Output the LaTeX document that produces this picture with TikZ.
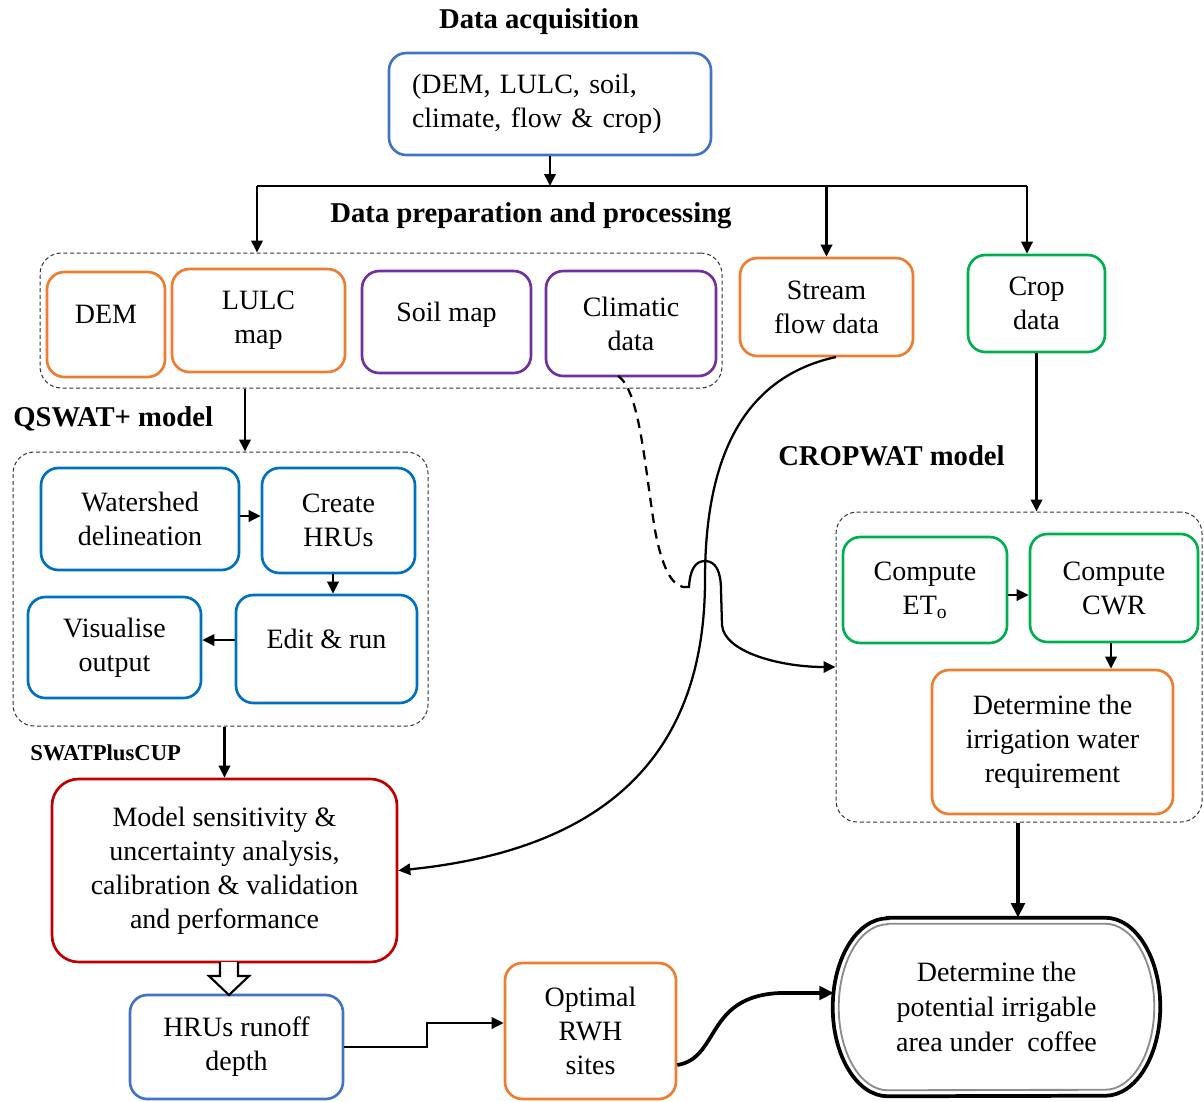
\documentclass[tikz,border=0pt]{standalone}
\usepackage{fontspec}
\setmainfont{Liberation Serif}
\usetikzlibrary{arrows.meta,calc}
\definecolor{blueA}{RGB}{68,114,196}
\definecolor{blueB}{RGB}{0,112,192}
\definecolor{orangeC}{RGB}{237,125,49}
\definecolor{purpleC}{RGB}{112,48,160}
\definecolor{greenC}{RGB}{0,176,80}
\definecolor{redC}{RGB}{192,0,0}
\begin{document}
\begin{tikzpicture}[x=0.75pt,y=-0.75pt,
  sz/.style 2 args={minimum width=#1*0.75pt, minimum height=#2*0.75pt},
  box/.style={draw, line width=2pt, rounded corners=13pt, align=center, inner sep=2pt, font=\fontsize{21}{25.5}\selectfont, fill=white},
  grp/.style={draw=black!80, dash pattern=on 3pt off 2pt, line width=0.75pt, rounded corners=16pt, inner sep=0pt},
  hd/.style={font=\bfseries\fontsize{21.5}{25}\selectfont, inner sep=0pt},
  arr/.style={line width=1.9pt, -{Triangle[length=9pt,width=8.5pt]}},
  thk/.style={line width=2.8pt, -{Triangle[length=11pt,width=10pt]}},
  hollow/.style={draw=black, fill=white, line width=1.6pt, line join=miter},
]
\useasboundingbox (0,0) rectangle (1204,1101);

% headings
\node[hd] (tacq) at (539,22) {Data acquisition};
\node[hd] (tprep) at (531,216) {Data preparation and processing};
\node[hd, anchor=west] (tqs) at (13,419) {QSWAT+ model};
\node[hd, anchor=west] (tcw) at (778,456) {CROPWAT model};
\node[hd, anchor=west, font=\bfseries\fontsize{17}{20}\selectfont] (tcup) at (30,753) {SWATPlusCUP};

% groups
\node[grp, sz={682}{135}] (g1) at (381,320.5) {};
\node[grp, sz={415}{274}] (g2) at (220.5,589) {};
\node[grp, sz={366}{310}] (g3) at (1019,667) {};

% data acquisition
\node[box, draw=blueA, sz={322}{102}, align=left, text width=207pt, inner xsep=17pt] (acq) at (550,104) {(DEM, LULC, soil,\\climate, flow \& crop)};

% data preparation
\node[box, draw=orangeC, sz={118}{105}] (dem) at (106,324.5) {\raisebox{16pt}{DEM}};
\node[box, draw=orangeC, sz={173}{103}] (lulc) at (258.5,320.5) {LULC\\map};
\node[box, draw=purpleC, sz={169}{102}] (soil) at (446.5,322) {\raisebox{15pt}{Soil map}};
\node[box, draw=purpleC, sz={170}{105}] (clim) at (631,323.5) {Climatic\\data};
\node[box, draw=orangeC, sz={173}{98}] (stream) at (826.5,307) {Stream\\flow data};
\node[box, draw=greenC, sz={137}{97}] (crop) at (1036.5,303.5) {Crop\\data};

% QSWAT+
\node[box, draw=blueB, sz={198}{102}] (ws) at (140,519) {Watershed\\delineation};
\node[box, draw=blueB, sz={153}{105}] (hru) at (338.5,520.5) {Create\\HRUs};
\node[box, draw=blueB, sz={181}{108}] (edit) at (326.5,649) {\raisebox{15pt}{Edit \& run}};
\node[box, draw=blueB, sz={173}{101}] (vis) at (114.5,647.5) {Visualise\\output};

% SWATPlusCUP
\node[box, draw=redC, sz={345}{183}, rounded corners=20pt] (red) at (224.5,870.5) {Model sensitivity \&\\uncertainty analysis,\\calibration \& validation\\and performance};
\node[box, draw=blueA, sz={213}{104}] (hrud) at (236.5,1047) {HRUs runoff\\depth};
\node[box, draw=orangeC, sz={171}{136}] (opt) at (590.5,1031) {Optimal\\RWH\\sites};

% CROPWAT
\node[box, draw=greenC, sz={164}{106}] (et0) at (925,590) {Compute\\ET\textsubscript{o}};
\node[box, draw=greenC, sz={168}{108}] (cwr) at (1114,588) {Compute\\CWR};
\node[box, draw=orangeC, sz={241}{144}] (irr) at (1052.5,742) {Determine the\\irrigation water\\requirement};

% final
\node[align=center, font=\fontsize{21}{26}\selectfont, sz={327}{178}, inner sep=0pt] (fin) at (996.5,1007) {Determine the\\potential irrigable\\area under~ coffee};
\draw[line width=2.8pt] ($(fin.north west)+(55,0)$) -- ($(fin.north east)+(-55,0)$)
  arc[start angle=90, end angle=-90, x radius=41.25pt, y radius=66.75pt]
  -- ($(fin.south west)+(55,0)$)
  arc[start angle=270, end angle=90, x radius=41.25pt, y radius=66.75pt] -- cycle;
\draw[line width=1.4pt, black!45] ($(fin.north west)+(55,6)$) -- ($(fin.north east)+(-55,6)$)
  arc[start angle=90, end angle=-90, x radius=36.75pt, y radius=62.25pt]
  -- ($(fin.south west)+(55,-6)$)
  arc[start angle=270, end angle=90, x radius=36.75pt, y radius=62.25pt] -- cycle;

% top connectors
\coordinate (bl) at (257,186);
\coordinate (br) at (1027,186);
\draw[line width=1.9pt] (bl) -- (br);
\draw[arr] (acq.south) -- (acq.south |- bl);
\draw[arr] (bl) -- (bl |- g1.north);
\draw[arr] (stream.north |- bl) -- (stream.north);
\draw[arr] (br) -- (br |- crop.north);

% QSWAT connectors
\coordinate (q1) at (245,0);
\draw[arr] (g1.south -| q1) -- (g2.north -| q1);
\draw[arr] (ws.east |- 0,516) -- (hru.west |- 0,516);
\draw[arr] (hru.south -| 333,0) -- (edit.north -| 333,0);
\draw[arr] (edit.west |- 0,640) -- (vis.east |- 0,640);
\draw[arr] (g2.south -| red.north) -- (red.north);

% hollow arrow
\draw[hollow] (220,962) -- (220,976) -- (209,976) -- (229,995) -- (249,976) -- (238,976) -- (238,962);

% bottom connectors
\draw[arr] (hrud.east) -| (427,1023) -- (opt.west |- 0,1023);
\draw[thk] (opt.east |- 0,1065) .. controls (720,1058) and (705,996) .. (780,993) -- (834,993);

% CROPWAT connectors
\draw[arr] (crop.south) -- (crop.south |- g3.north);
\draw[arr] (et0.east |- 0,595) -- (cwr.west |- 0,595);
\draw[arr] (cwr.south -| 1111,0) -- (irr.north -| 1111,0);
\draw[thk] (g3.south -| 1018,0) -- (fin.north -| 1018,0);

% stream flow to calibration
\draw[arr, line width=1.7pt] (836,357) .. controls (730,380) and (705,480) .. (705,580) .. controls (705,760) and (600,850) .. (red.east);

% climatic data to CROPWAT with hop
\draw[line width=1.7pt, dash pattern=on 7pt off 5pt] (618,376) .. controls (640,390) and (645,470) .. (655,530) .. controls (662,568) and (672,585) .. (683,587);
\draw[arr, line width=1.7pt] (683,587) -- (689,587) .. controls (690,570) and (695,561) .. (705,561) .. controls (716,561) and (721,572) .. (721,590) -- (722,625) .. controls (724,652) and (780,667) .. (g3.west);
\end{tikzpicture}
\end{document}
